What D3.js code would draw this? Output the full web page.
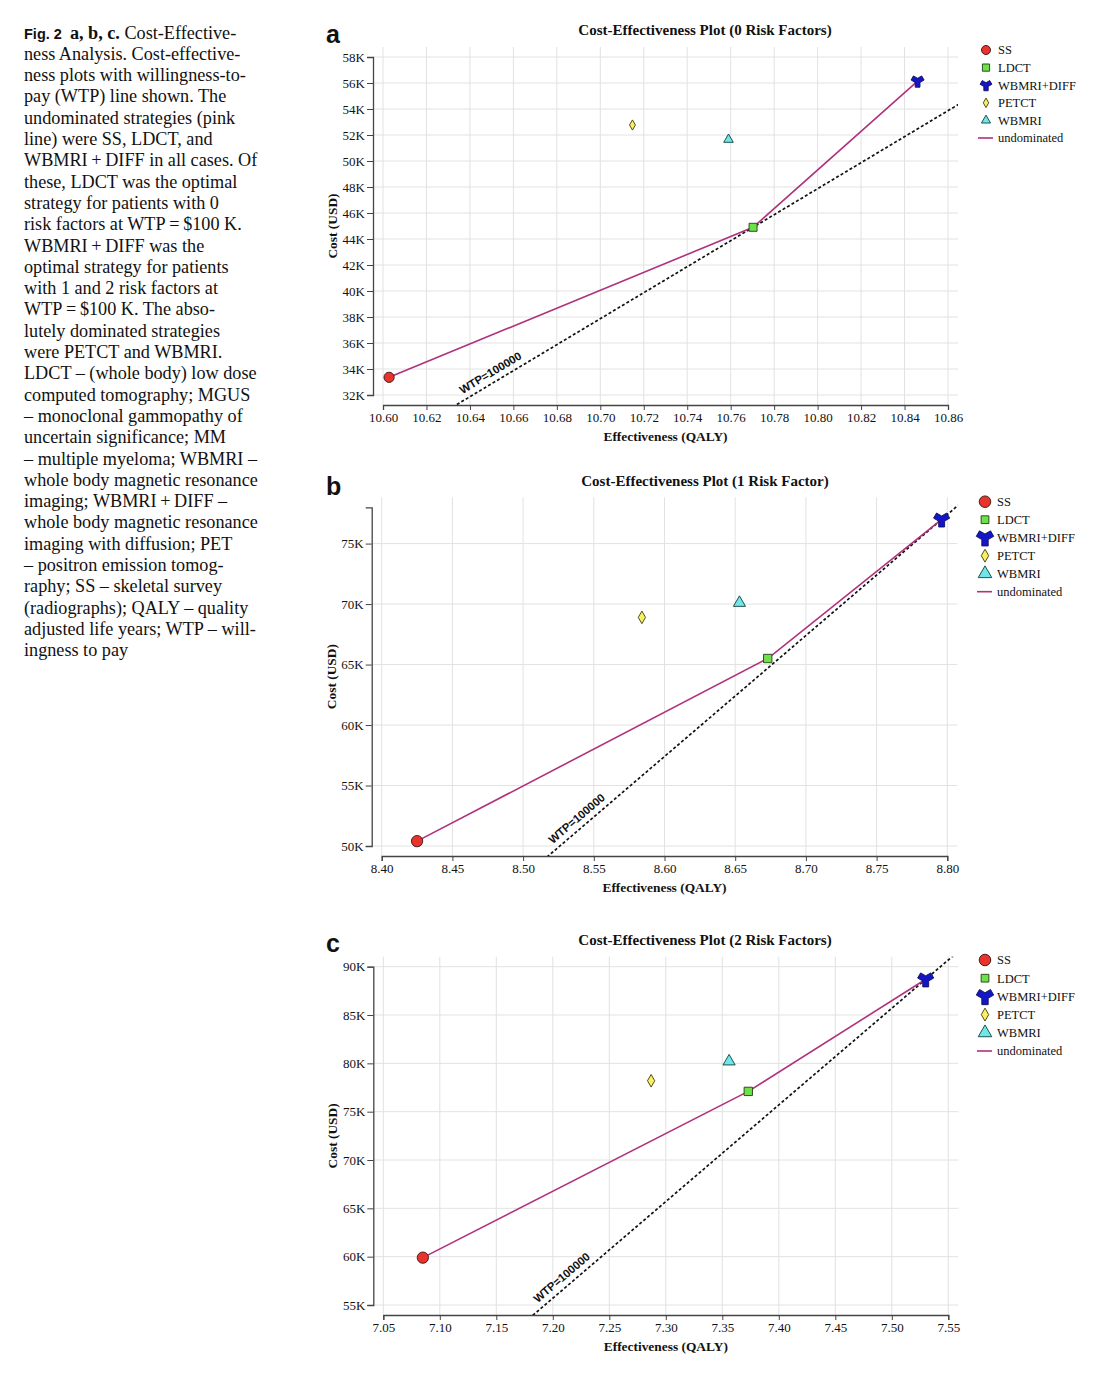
<!DOCTYPE html>
<html><head><meta charset="utf-8">
<script src="https://cdn.jsdelivr.net/npm/d3@7"></script>
<style>body{margin:0;background:#fff} svg{display:block}</style>
</head><body><svg id="chart" width="1104" height="1374"></svg>
<script>
// ---------- DATA ----------
const strategies = ["SS", "LDCT", "WBMRI+DIFF", "PETCT", "WBMRI"];
const undominated = ["SS", "LDCT", "WBMRI+DIFF"];
const wtp = 100000;

const titles = ["Cost-Effectiveness Plot (0 Risk Factors)", "Cost-Effectiveness Plot (1 Risk Factor)", "Cost-Effectiveness Plot (2 Risk Factors)"];
const panelLetters = ["a", "b", "c"];
const optimalStrategy = ["LDCT", "WBMRI+DIFF", "WBMRI+DIFF"];

const effA = [10.6028, 10.7703, 10.8460, 10.7148, 10.7590];
const costA = [33360, 44900, 56150, 52770, 51650];
const effB = [8.425, 8.673, 8.796, 8.584, 8.653];
const costB = [50400, 65500, 77000, 68900, 70100];
const effC = [7.085, 7.373, 7.530, 7.287, 7.356];
const costC = [59900, 77100, 88700, 78200, 80200];

const xTicksA = [10.60, 10.62, 10.64, 10.66, 10.68, 10.70, 10.72, 10.74, 10.76, 10.78, 10.80, 10.82, 10.84, 10.86];
const yTicksA = [32000, 34000, 36000, 38000, 40000, 42000, 44000, 46000, 48000, 50000, 52000, 54000, 56000, 58000];
const xTicksB = [8.40, 8.45, 8.50, 8.55, 8.60, 8.65, 8.70, 8.75, 8.80];
const yTicksB = [50000, 55000, 60000, 65000, 70000, 75000];
const xTicksC = [7.05, 7.10, 7.15, 7.20, 7.25, 7.30, 7.35, 7.40, 7.45, 7.50, 7.55];
const yTicksC = [55000, 60000, 65000, 70000, 75000, 80000, 85000, 90000];

const xDomA = [10.60, 10.86], yDomA = [32000, 58000];
const xDomB = [8.40, 8.80], yDomB = [50000, 78000];
const xDomC = [7.05, 7.55], yDomC = [55000, 90000];

const captionLines = [
  "ness Analysis. Cost-effective-",
  "ness plots with willingness-to-",
  "pay (WTP) line shown. The",
  "undominated strategies (pink",
  "line) were SS, LDCT, and",
  "WBMRI\u2009+\u2009DIFF in all cases. Of",
  "these, LDCT was the optimal",
  "strategy for patients with 0",
  "risk factors at WTP\u2009=\u2009$100 K.",
  "WBMRI\u2009+\u2009DIFF was the",
  "optimal strategy for patients",
  "with 1 and 2 risk factors at",
  "WTP\u2009=\u2009$100 K. The abso-",
  "lutely dominated strategies",
  "were PETCT and WBMRI.",
  "LDCT \u2013 (whole body) low dose",
  "computed tomography; MGUS",
  "\u2013 monoclonal gammopathy of",
  "uncertain significance; MM",
  "\u2013 multiple myeloma; WBMRI \u2013",
  "whole body magnetic resonance",
  "imaging; WBMRI\u2009+\u2009DIFF \u2013",
  "whole body magnetic resonance",
  "imaging with diffusion; PET",
  "\u2013 positron emission tomog-",
  "raphy; SS \u2013 skeletal survey",
  "(radiographs); QALY \u2013 quality",
  "adjusted life years; WTP \u2013 will-",
  "ingness to pay"
];

// ---------- STYLE / LAYOUT ----------
const fills = ["#e8352b", "#6ee04a", "#1515c8", "#f8f060", "#70e6e6"];
const strokes = ["#3a1010", "#204010", "#10105a", "#403a10", "#104040"];
const symTypes = [d3.symbolCircle, d3.symbolSquare, d3.symbolWye, d3.symbolDiamond, d3.symbolTriangle];
const sizesSmall = [82, 64, 78, 30, 40];
const sizesLarge = [100, 70, 120, 46, 64];
const legSmall = [64, 52, 64, 26, 36];
const legLarge = [105, 60, 140, 48, 80];
const magenta = "#b0317c";

const serif = "'Liberation Serif','Times New Roman',serif";
const sans = "'Liberation Sans',Arial,sans-serif";

const panels = [
  {eff: effA, cost: costA, xt: xTicksA, yt: yTicksA, xd: xDomA, yd: yDomA, L: 383, R: 948, T: 57, B: 395, sizes: sizesSmall, leg: legSmall, legY: 50, legStep: 17.6, legX: 986, titleY: 35, letterY: 43},
  {eff: effB, cost: costB, xt: xTicksB, yt: yTicksB, xd: xDomB, yd: yDomB, L: 381.7, R: 947.3, T: 507.3, B: 846, sizes: sizesLarge, leg: legLarge, legY: 501.7, legStep: 18, legX: 985, titleY: 486, letterY: 495},
  {eff: effC, cost: costC, xt: xTicksC, yt: yTicksC, xd: xDomC, yd: yDomC, L: 383.3, R: 948.3, T: 966.7, B: 1305, sizes: sizesLarge, leg: legLarge, legY: 960, legStep: 18.2, legX: 985, titleY: 945, letterY: 952}
];

const svg = d3.select("#chart");

// ---------- CAPTION ----------
const capSize = 18.2;
const cap = svg.append("g").attr("fill", "#111");
const first = cap.append("text").attr("x", 24).attr("y", 38.5).attr("font-family", serif).attr("font-size", capSize);
first.append("tspan").attr("font-family", sans).attr("font-weight", "bold").attr("font-size", 14.5).text("Fig. 2");
first.append("tspan").attr("dx", 8).attr("font-weight", "bold").text("a, b, c.");
first.append("tspan").text(" Cost-Effective-");
cap.selectAll("text.cl").data(captionLines).join("text").attr("class", "cl")
  .attr("x", 24).attr("y", (d, i) => 38.5 + (i + 1) * 21.3)
  .attr("font-family", serif).attr("font-size", capSize).text(d => d);

// ---------- PANELS ----------
panels.forEach((p, pi) => {
  const x = d3.scaleLinear().domain(p.xd).range([p.L, p.R]);
  const y = d3.scaleLinear().domain(p.yd).range([p.B, p.T]);
  const pad = 10;
  const gx0 = p.L - pad, gx1 = p.R + pad, gy0 = p.T - pad, gy1 = p.B + pad;
  const g = svg.append("g");

  // clip
  const cid = "clip" + pi;
  svg.append("clipPath").attr("id", cid).append("rect")
    .attr("x", gx0).attr("y", gy0).attr("width", gx1 - gx0).attr("height", gy1 - gy0);

  // grid
  g.append("g").selectAll("line").data(p.xt).join("line")
    .attr("x1", d => x(d)).attr("x2", d => x(d)).attr("y1", gy0).attr("y2", gy1)
    .attr("stroke", "#e2e2e2").attr("stroke-width", 1);
  g.append("g").selectAll("line").data(p.yt).join("line")
    .attr("x1", gx0).attr("x2", gx1).attr("y1", d => y(d)).attr("y2", d => y(d))
    .attr("stroke", "#e2e2e2").attr("stroke-width", 1);

  // axes
  const xa = g.append("g").attr("transform", `translate(0,${gy1})`)
    .call(d3.axisBottom(x).tickValues(p.xt).tickFormat(d3.format(".2f")).tickSizeOuter(0).tickSize(5).tickPadding(3));
  const ya = g.append("g").attr("transform", `translate(${gx0},0)`)
    .call(d3.axisLeft(y).tickValues(p.yt).tickFormat(d => (d / 1000) + "K").tickSizeOuter(0).tickSize(6).tickPadding(2));
  [xa, ya].forEach(a => {
    a.select(".domain").attr("stroke", "#444").attr("stroke-width", 1.3);
    a.selectAll(".tick line").attr("stroke", "#444");
    a.selectAll(".tick text").attr("font-family", serif).attr("font-size", 13).attr("fill", "#111");
  });

  // axis titles
  g.append("text").attr("x", (p.L + p.R) / 2).attr("y", gy1 + 36).attr("text-anchor", "middle")
    .attr("font-family", serif).attr("font-weight", "bold").attr("font-size", 13.4).attr("fill", "#111")
    .text("Effectiveness (QALY)");
  g.append("text").attr("transform", `translate(${gx0 - 36},${(p.T + p.B) / 2}) rotate(-90)`).attr("text-anchor", "middle")
    .attr("font-family", serif).attr("font-weight", "bold").attr("font-size", 13.4).attr("fill", "#111")
    .text("Cost (USD)");

  // title and letter
  g.append("text").attr("x", 705).attr("y", p.titleY).attr("text-anchor", "middle")
    .attr("font-family", serif).attr("font-weight", "bold").attr("font-size", 15).attr("fill", "#111")
    .text(titles[pi]);
  g.append("text").attr("x", 326).attr("y", p.letterY)
    .attr("font-family", sans).attr("font-weight", "bold").attr("font-size", 25).attr("fill", "#111")
    .text(panelLetters[pi]);

  // WTP line through optimal strategy
  const oi = strategies.indexOf(optimalStrategy[pi]);
  const e0 = p.eff[oi], c0 = p.cost[oi];
  const ea = x.invert(gx0 - 50), eb = x.invert(gx1 + 50);
  const ca = c0 + wtp * (ea - e0), cb = c0 + wtp * (eb - e0);
  g.append("line").attr("clip-path", `url(#${cid})`)
    .attr("x1", x(ea)).attr("y1", y(ca)).attr("x2", x(eb)).attr("y2", y(cb))
    .attr("stroke", "#111").attr("stroke-width", 1.7).attr("stroke-dasharray", "3,2.2");
  // label
  const cBot = y.invert(gy1);
  const eBot = e0 + (cBot - c0) / wtp;
  const px0 = x(eBot), py0 = gy1;
  let dx = x(eb) - x(ea), dy = y(cb) - y(ca);
  const len = Math.hypot(dx, dy); dx /= len; dy /= len;
  const nx = dy, ny = -dx;
  const along = 11, off = 6;
  const lx = px0 + along * dx + off * nx, ly = py0 + along * dy + off * ny;
  const ang = Math.atan2(dy, dx) * 180 / Math.PI;
  g.append("text").attr("transform", `translate(${lx},${ly}) rotate(${ang})`)
    .attr("font-family", sans).attr("font-weight", "bold").attr("font-size", 11.4).attr("fill", "#111")
    .text("WTP=" + wtp);

  // undominated frontier
  const ud = undominated.map(s => strategies.indexOf(s));
  g.append("path").datum(ud)
    .attr("d", d3.line().x(i => x(p.eff[i])).y(i => y(p.cost[i])))
    .attr("fill", "none").attr("stroke", magenta).attr("stroke-width", 1.6);

  // markers
  g.append("g").selectAll("path").data(strategies).join("path")
    .attr("d", (s, i) => d3.symbol().type(symTypes[i]).size(p.sizes[i])())
    .attr("transform", (s, i) => `translate(${x(p.eff[i])},${y(p.cost[i])})`)
    .attr("fill", (s, i) => fills[i]).attr("stroke", (s, i) => strokes[i]).attr("stroke-width", 0.9);

  // legend
  const lg = g.append("g");
  strategies.forEach((s, i) => {
    const yy = p.legY + i * p.legStep;
    lg.append("path").attr("d", d3.symbol().type(symTypes[i]).size(p.leg[i])())
      .attr("transform", `translate(${p.legX},${yy})`)
      .attr("fill", fills[i]).attr("stroke", strokes[i]).attr("stroke-width", 0.9);
    lg.append("text").attr("x", p.legX + 12).attr("y", yy).attr("dy", "0.35em")
      .attr("font-family", serif).attr("font-size", 12.5).attr("fill", "#111").text(s);
  });
  const yu = p.legY + strategies.length * p.legStep;
  lg.append("line").attr("x1", p.legX - 8).attr("x2", p.legX + 7).attr("y1", yu).attr("y2", yu)
    .attr("stroke", magenta).attr("stroke-width", 1.6);
  lg.append("text").attr("x", p.legX + 12).attr("y", yu).attr("dy", "0.35em")
    .attr("font-family", serif).attr("font-size", 12.5).attr("fill", "#111").text("undominated");
});
</script></body></html>
